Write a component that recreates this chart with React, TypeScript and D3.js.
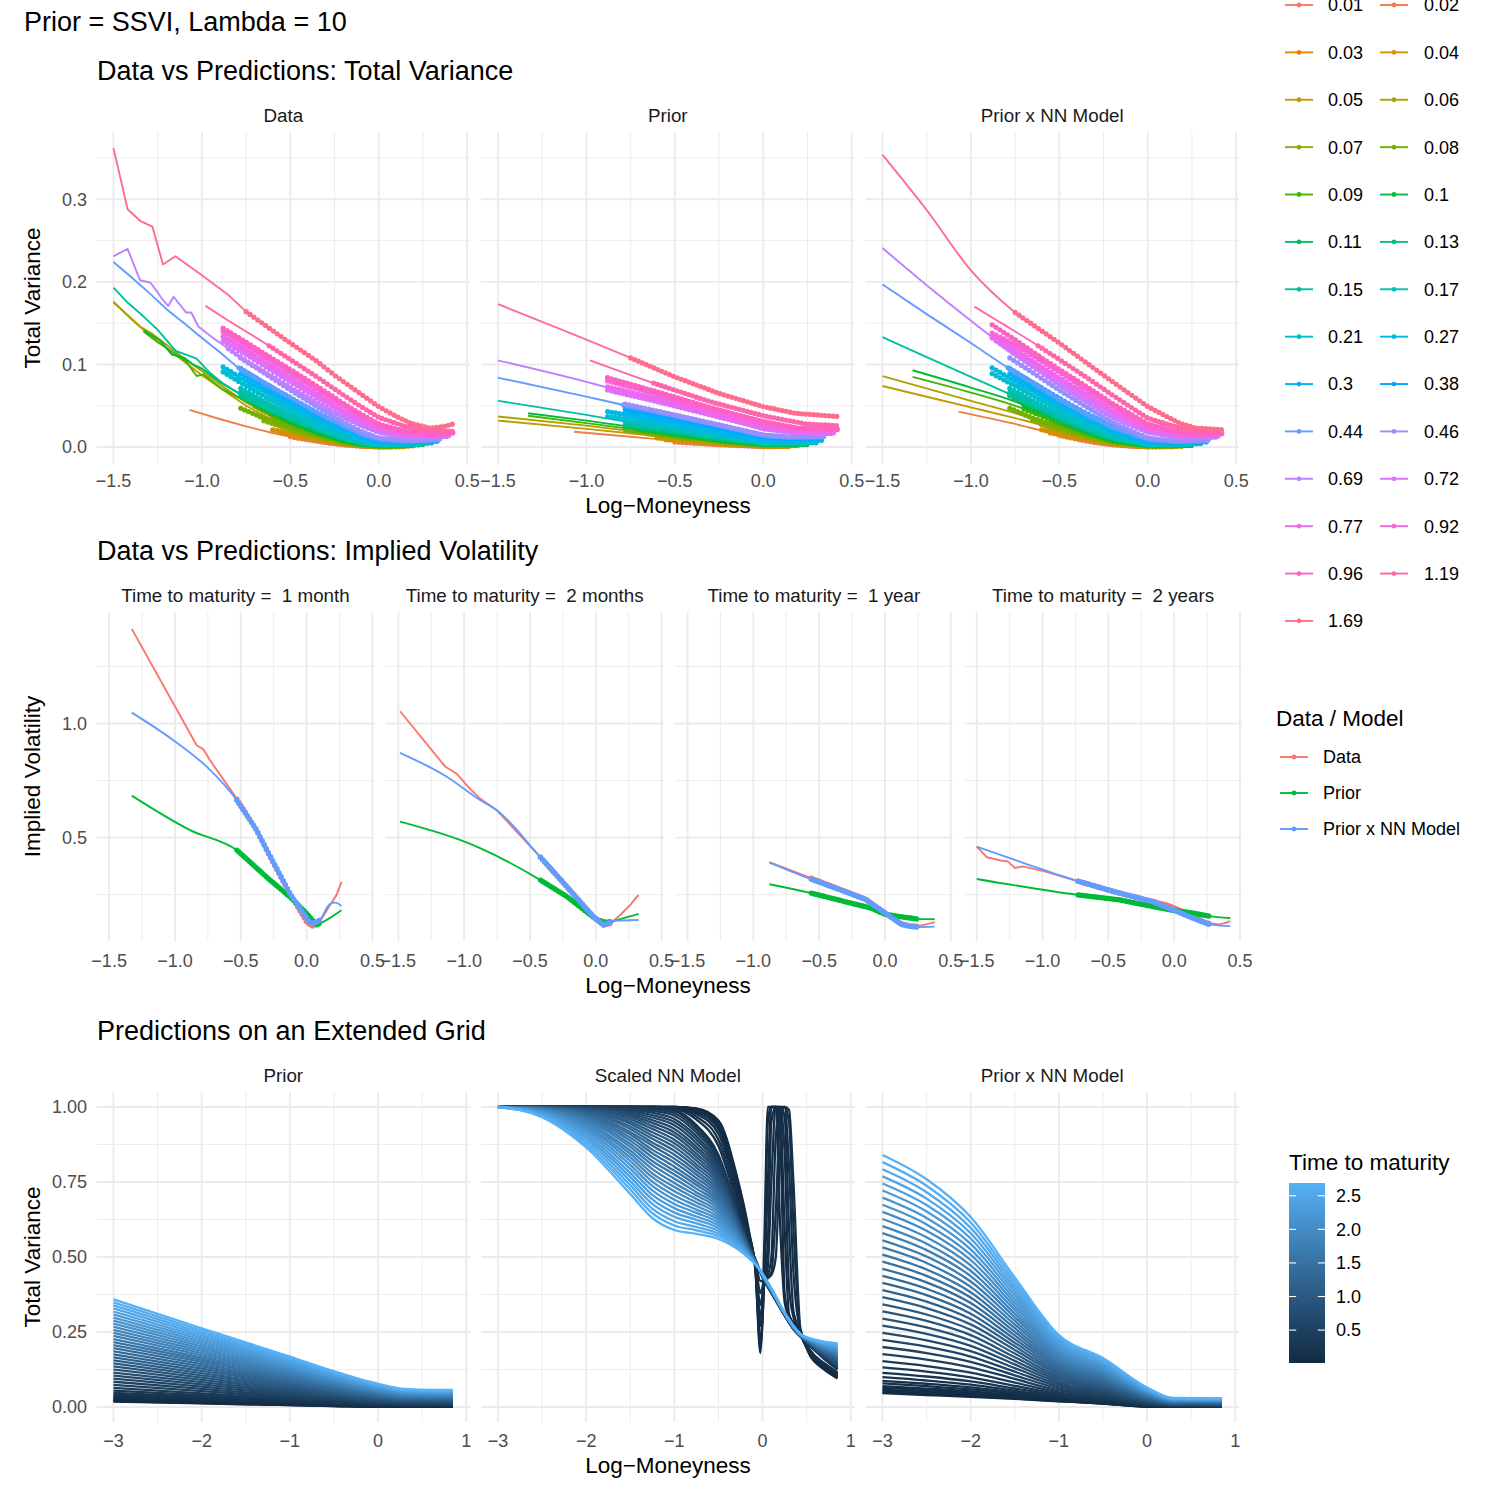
import React from 'react';
import * as d3 from 'd3';

type Pt = [number, number];

const FONT = '"Liberation Sans", Arial, Helvetica, sans-serif';
const GRID = '#EBEBEB';
const TICK_INK = '#4D4D4D';
const STRIP_INK = '#1A1A1A';

// ---------------------------------------------------------------------------
// Total variance slices, one per maturity (years)
// ---------------------------------------------------------------------------
const maturities = ['0.01', '0.02', '0.03', '0.04', '0.05', '0.06', '0.07', '0.08', '0.09', '0.1', '0.11', '0.13', '0.15', '0.17', '0.21', '0.27', '0.3', '0.38', '0.44', '0.46', '0.69', '0.72', '0.77', '0.92', '0.96', '1.19', '1.69'];

const tvData: Pt[][] = [
  [[-0.5, .014], [-0.4, .0095], [-0.3, .0055], [-0.2, .0028], [-0.1, .001], [0, .0002], [0.08, .0002], [0.15, .0006]],
  [[-1.07, .045], [-0.9, .034], [-0.75, .025], [-0.6, .017], [-0.45, .0105], [-0.3, .0055], [-0.15, .002], [0, .0003], [0.15, .0007]],
  [[-0.55, .017], [-0.4, .011], [-0.25, .0055], [-0.1, .0015], [0, .0004], [0.15, .0009]],
  [[-0.6, .021], [-0.45, .014], [-0.3, .0075], [-0.15, .0028], [0, .0006], [0.15, .001]],
  [[-1.5, .176], [-1.4, .155], [-1.33, .142], [-1.2, .12], [-1.0, .087], [-0.88, .069], [-0.75, .05], [-0.6, .033], [-0.5, .023], [-0.35, .012], [-0.25, .0065], [-0.1, .0018], [0, .0008], [0.1, .0008], [0.2, .0016]],
  [[-1.5, .175], [-1.42, .16], [-1.35, .146], [-1.28, .137], [-1.2, .124], [-1.1, .107], [-1.0, .092], [-0.88, .073], [-0.75, .054], [-0.6, .036], [-0.5, .026], [-0.35, .014], [-0.25, .0075], [-0.1, .0022], [0, .001], [0.1, .001], [0.2, .002]],
  [[-0.65, .032], [-0.5, .021], [-0.35, .012], [-0.2, .005], [-0.1, .0022], [0, .0011], [0.1, .0012], [0.2, .0022]],
  [[-0.78, .047], [-0.65, .035], [-0.5, .024], [-0.35, .014], [-0.2, .006], [-0.1, .0027], [0, .0013], [0.1, .0014], [0.2, .0024]],
  [[-1.33, .14], [-1.25, .127], [-1.15, .113], [-1.09, .104], [-1.03, .086], [-0.99, .088], [-0.89, .071], [-0.75, .055], [-0.6, .039], [-0.5, .029], [-0.35, .017], [-0.2, .0075], [-0.1, .0033], [0, .0015], [0.1, .0016], [0.25, .003]],
  [[-1.33, .141], [-1.24, .13], [-1.17, .112], [-1.1, .108], [-1.05, .1], [-1.0, .095], [-0.95, .087], [-0.9, .079], [-0.8, .066], [-0.75, .058], [-0.6, .042], [-0.5, .031], [-0.35, .018], [-0.2, .008], [-0.1, .0036], [0, .0017], [0.1, .0018], [0.25, .0033]],
  [[-0.78, .062], [-0.65, .048], [-0.5, .033], [-0.35, .02], [-0.2, .009], [-0.1, .004], [0, .0019], [0.1, .002], [0.25, .0036]],
  [[-0.78, .066], [-0.65, .052], [-0.5, .036], [-0.35, .022], [-0.2, .011], [-0.1, .0048], [0, .0022], [0.1, .0022], [0.25, .004]],
  [[-1.5, .193], [-1.42, .175], [-1.33, .158], [-1.25, .142], [-1.145, .116], [-1.09, .112], [-1.03, .107], [-0.96, .091], [-0.88, .077], [-0.75, .06], [-0.6, .044], [-0.5, .035], [-0.35, .022], [-0.2, .011], [-0.1, .005], [0, .0026], [0.15, .0026], [0.3, .005]],
  [[-0.78, .071], [-0.65, .056], [-0.5, .04], [-0.35, .025], [-0.2, .013], [-0.1, .006], [0, .003], [0.15, .003], [0.3, .0055]],
  [[-0.88, .091], [-0.75, .074], [-0.6, .056], [-0.5, .045], [-0.35, .029], [-0.2, .016], [-0.1, .0085], [0, .0042], [0.15, .0038], [0.3, .006]],
  [[-0.88, .097], [-0.75, .08], [-0.6, .062], [-0.5, .05], [-0.35, .034], [-0.2, .019], [-0.1, .0105], [0, .0055], [0.15, .0048], [0.33, .007]],
  [[-0.78, .089], [-0.65, .072], [-0.5, .054], [-0.35, .037], [-0.2, .021], [-0.1, .012], [0, .0065], [0.15, .0055], [0.33, .0075]],
  [[-0.78, .095], [-0.65, .078], [-0.5, .059], [-0.35, .041], [-0.2, .025], [-0.1, .0145], [0, .008], [0.15, .0065], [0.33, .0085]],
  [[-1.5, .224], [-1.4, .206], [-1.3, .187], [-1.2, .167], [-1.1, .15], [-1.01, .134], [-0.9, .115], [-0.8, .097], [-0.65, .078], [-0.5, .06], [-0.35, .042], [-0.2, .026], [-0.1, .016], [0, .0095], [0.15, .007], [0.35, .009]],
  [[-0.78, .108], [-0.65, .09], [-0.5, .069], [-0.35, .049], [-0.2, .03], [-0.1, .019], [0, .011], [0.15, .008], [0.35, .0095]],
  [[-1.5, .231], [-1.42, .24], [-1.35, .202], [-1.29, .199], [-1.22, .178], [-1.19, .171], [-1.16, .182], [-1.09, .163], [-1.06, .163], [-1.02, .146], [-0.93, .131], [-0.85, .119], [-0.75, .104], [-0.6, .085], [-0.5, .072], [-0.35, .054], [-0.2, .036], [-0.1, .026], [0, .018], [0.15, .012], [0.3, .012], [0.4, .013]],
  [[-0.88, .128], [-0.75, .112], [-0.6, .092], [-0.5, .079], [-0.35, .06], [-0.2, .041], [-0.1, .029], [0, .02], [0.15, .014], [0.3, .013], [0.4, .014]],
  [[-0.88, .134], [-0.75, .117], [-0.6, .097], [-0.5, .084], [-0.35, .064], [-0.2, .044], [-0.1, .032], [0, .022], [0.15, .015], [0.3, .014], [0.4, .015]],
  [[-0.88, .14], [-0.75, .123], [-0.6, .103], [-0.5, .09], [-0.35, .07], [-0.2, .05], [-0.1, .037], [0, .026], [0.15, .018], [0.3, .016], [0.42, .017]],
  [[-0.88, .144], [-0.75, .127], [-0.6, .107], [-0.5, .094], [-0.35, .074], [-0.2, .053], [-0.1, .04], [0, .028], [0.15, .019], [0.3, .017], [0.42, .018]],
  [[-0.98, .171], [-0.85, .153], [-0.75, .14], [-0.6, .12], [-0.5, .106], [-0.35, .085], [-0.2, .063], [-0.1, .049], [0, .036], [0.15, .025], [0.3, .02], [0.42, .019]],
  [[-1.5, .362], [-1.42, .288], [-1.35, .274], [-1.28, .267], [-1.22, .221], [-1.15, .231], [-1.0, .208], [-0.85, .184], [-0.75, .164], [-0.6, .141], [-0.5, .126], [-0.35, .104], [-0.25, .087], [-0.1, .064], [0, .049], [0.1, .037], [0.18, .029], [0.29, .023], [0.37, .025], [0.42, .028]],
];

const tvPrior: Pt[][] = [
  [[-0.5, .006], [-0.25, .0028], [0, .0005], [0.15, .0006]],
  [[-1.07, .0185], [-0.75, .0125], [-0.5, .0078], [-0.25, .0035], [0, .0008], [0.15, .0009]],
  [[-0.55, .009], [-0.25, .004], [0, .001], [0.15, .0011]],
  [[-0.6, .011], [-0.3, .005], [0, .0013], [0.15, .0014]],
  [[-1.5, .032], [-1.0, .022], [-0.5, .011], [-0.25, .0055], [0, .0016], [0.2, .0017]],
  [[-1.5, .037], [-1.0, .026], [-0.5, .013], [-0.25, .0065], [0, .002], [0.2, .002]],
  [[-0.65, .016], [-0.5, .012], [-0.25, .006], [0, .0022], [0.2, .0023]],
  [[-0.78, .021], [-0.5, .013], [-0.25, .0068], [0, .0025], [0.2, .0026]],
  [[-1.33, .038], [-1.0, .029], [-0.5, .015], [-0.25, .0078], [0, .0029], [0.25, .003]],
  [[-1.33, .041], [-1.0, .032], [-0.5, .0165], [-0.25, .0086], [0, .0032], [0.25, .0033]],
  [[-0.78, .025], [-0.5, .017], [-0.25, .0093], [0, .0035], [0.25, .0036]],
  [[-0.78, .027], [-0.5, .0185], [-0.25, .0105], [0, .0042], [0.25, .0042]],
  [[-1.5, .056], [-1.0, .039], [-0.5, .0205], [-0.25, .0118], [0, .0049], [0.15, .0045], [0.3, .0052]],
  [[-0.78, .031], [-0.5, .022], [-0.25, .0128], [0, .0056], [0.15, .005], [0.3, .0058]],
  [[-0.88, .037], [-0.5, .025], [-0.25, .015], [0, .0069], [0.15, .006], [0.3, .0068]],
  [[-0.88, .043], [-0.5, .029], [-0.25, .018], [0, .0088], [0.15, .0075], [0.33, .0082]],
  [[-0.78, .043], [-0.5, .031], [-0.25, .0195], [0, .0098], [0.15, .0083], [0.33, .009]],
  [[-0.78, .047], [-0.5, .035], [-0.25, .023], [0, .0123], [0.15, .0103], [0.33, .0108]],
  [[-1.5, .084], [-1.0, .061], [-0.79, .051], [-0.5, .038], [-0.25, .026], [0, .0142], [0.15, .0118], [0.35, .0122]],
  [[-0.78, .052], [-0.5, .039], [-0.25, .027], [0, .0148], [0.15, .0123], [0.35, .0127]],
  [[-1.5, .105], [-1.0, .079], [-0.88, .072], [-0.5, .053], [-0.25, .038], [0, .022], [0.2, .0168], [0.4, .0165]],
  [[-0.88, .069], [-0.6, .055], [-0.3, .039], [0, .023], [0.2, .0175], [0.4, .017]],
  [[-0.88, .073], [-0.6, .058], [-0.3, .041], [0, .0245], [0.2, .0186], [0.4, .018]],
  [[-0.88, .08], [-0.6, .064], [-0.3, .046], [0, .029], [0.2, .022], [0.42, .021]],
  [[-0.88, .084], [-0.6, .067], [-0.3, .048], [0, .031], [0.2, .023], [0.42, .022]],
  [[-0.98, .105], [-0.6, .076], [-0.3, .055], [0, .038], [0.24, .028], [0.42, .026]],
  [[-1.5, .173], [-0.75, .108], [-0.5, .085], [-0.25, .065], [0, .049], [0.18, .041], [0.42, .037]],
];

const tvModel: Pt[][] = [
  [[-0.5, .0145], [-0.4, .0095], [-0.3, .0055], [-0.2, .0028], [-0.1, .001], [0, .0003], [0.15, .0005]],
  [[-1.07, .043], [-0.9, .035], [-0.75, .028], [-0.6, .02], [-0.5, .0145], [-0.35, .008], [-0.2, .0033], [0, .0004], [0.15, .0006]],
  [[-0.55, .017], [-0.4, .011], [-0.25, .0055], [-0.1, .0016], [0, .0005], [0.15, .0008]],
  [[-0.6, .021], [-0.45, .014], [-0.3, .0075], [-0.15, .0028], [0, .0007], [0.15, .0009]],
  [[-1.5, .074], [-1.0, .048], [-0.75, .035], [-0.6, .027], [-0.5, .021], [-0.35, .012], [-0.2, .0045], [0, .0009], [0.2, .0012]],
  [[-1.5, .086], [-1.0, .056], [-0.75, .041], [-0.6, .031], [-0.5, .025], [-0.35, .014], [-0.2, .0055], [0, .0011], [0.2, .0014]],
  [[-0.65, .032], [-0.5, .021], [-0.35, .012], [-0.2, .0052], [0, .0012], [0.2, .0015]],
  [[-0.78, .047], [-0.65, .035], [-0.5, .024], [-0.35, .014], [-0.2, .006], [0, .0014], [0.2, .0017]],
  [[-1.33, .085], [-1.0, .066], [-0.75, .05], [-0.6, .038], [-0.5, .029], [-0.35, .017], [-0.2, .0075], [0, .0016], [0.25, .002]],
  [[-1.33, .093], [-1.0, .072], [-0.75, .055], [-0.6, .042], [-0.5, .032], [-0.35, .019], [-0.2, .0082], [0, .0018], [0.25, .0022]],
  [[-0.78, .062], [-0.65, .048], [-0.5, .033], [-0.35, .02], [-0.2, .009], [0, .002], [0.25, .0025]],
  [[-0.78, .066], [-0.65, .052], [-0.5, .036], [-0.35, .022], [-0.2, .011], [0, .0024], [0.25, .003]],
  [[-1.5, .133], [-1.25, .109], [-1.0, .085], [-0.75, .061], [-0.6, .046], [-0.5, .036], [-0.35, .022], [-0.2, .011], [0, .0028], [0.15, .0026], [0.3, .0042]],
  [[-0.78, .071], [-0.65, .056], [-0.5, .04], [-0.35, .025], [-0.2, .013], [0, .0032], [0.15, .003], [0.3, .0048]],
  [[-0.88, .089], [-0.75, .074], [-0.6, .056], [-0.5, .045], [-0.35, .029], [-0.2, .016], [0, .0044], [0.15, .0038], [0.3, .0055]],
  [[-0.88, .096], [-0.75, .08], [-0.6, .062], [-0.5, .05], [-0.35, .034], [-0.2, .019], [0, .0057], [0.15, .0046], [0.33, .0062]],
  [[-0.78, .089], [-0.65, .072], [-0.5, .054], [-0.35, .037], [-0.2, .021], [0, .0066], [0.15, .0053], [0.33, .0068]],
  [[-0.78, .095], [-0.65, .078], [-0.5, .059], [-0.35, .041], [-0.2, .025], [0, .0082], [0.15, .0062], [0.33, .0076]],
  [[-1.5, .197], [-1.25, .161], [-1.0, .126], [-0.79, .096], [-0.65, .078], [-0.5, .058], [-0.35, .04], [-0.2, .024], [0, .0095], [0.15, .0066], [0.35, .0078]],
  [[-0.78, .108], [-0.65, .09], [-0.5, .069], [-0.35, .049], [-0.2, .03], [0, .011], [0.15, .0075], [0.35, .0086]],
  [[-1.5, .241], [-1.25, .196], [-1.0, .153], [-0.88, .133], [-0.75, .112], [-0.6, .09], [-0.5, .075], [-0.35, .055], [-0.2, .036], [0, .018], [0.2, .011], [0.4, .012]],
  [[-0.88, .132], [-0.75, .113], [-0.6, .092], [-0.5, .079], [-0.35, .06], [-0.2, .041], [0, .02], [0.2, .013], [0.4, .013]],
  [[-0.88, .136], [-0.75, .118], [-0.6, .097], [-0.5, .084], [-0.35, .064], [-0.2, .044], [0, .022], [0.2, .014], [0.4, .014]],
  [[-0.88, .138], [-0.75, .124], [-0.6, .104], [-0.5, .091], [-0.35, .07], [-0.2, .05], [0, .026], [0.2, .016], [0.42, .016]],
  [[-0.88, .148], [-0.75, .13], [-0.6, .108], [-0.5, .094], [-0.35, .074], [-0.2, .053], [0, .028], [0.2, .017], [0.42, .017]],
  [[-0.98, .17], [-0.85, .153], [-0.75, .14], [-0.6, .12], [-0.5, .106], [-0.35, .085], [-0.2, .063], [0, .035], [0.2, .022], [0.42, .019]],
  [[-1.5, .354], [-1.25, .287], [-1.0, .214], [-0.75, .163], [-0.5, .126], [-0.25, .087], [0, .049], [0.18, .029], [0.27, .023], [0.42, .021]],
];

// Strike span of the densely quoted part of each slice
const tvQuotes: Pt[] = [
  [-0.5, 0.15], [-0.5, 0.15], [-0.55, 0.15], [-0.6, 0.15], [-0.6, 0.2], [-0.6, 0.2], [-0.65, 0.2], [-0.78, 0.2], [-0.7, 0.25],
  [-0.7, 0.25], [-0.78, 0.25], [-0.78, 0.25], [-0.78, 0.3], [-0.78, 0.3], [-0.88, 0.3], [-0.88, 0.33], [-0.78, 0.33], [-0.78, 0.33],
  [-0.79, 0.35], [-0.78, 0.35], [-0.85, 0.4], [-0.88, 0.4], [-0.88, 0.4], [-0.88, 0.42], [-0.88, 0.42], [-0.62, 0.42], [-0.75, 0.42],
];

// ---------------------------------------------------------------------------
// Implied volatility for four selected maturities
// ---------------------------------------------------------------------------
const ivFacets = ['Time to maturity =  1 month', 'Time to maturity =  2 months', 'Time to maturity =  1 year', 'Time to maturity =  2 years'];
const ivSeries = ['Data', 'Prior', 'Prior x NN Model'];

const ivData: Pt[][] = [
  [[-1.328, 1.415], [-0.835, 0.905], [-0.784, 0.887], [-0.734, 0.839], [-0.65, 0.77], [-0.557, 0.693], [-0.5, 0.642], [-0.38, 0.533], [-0.278, 0.416], [-0.127, 0.255], [0, 0.131], [0.045, 0.112], [0.1, 0.131], [0.177, 0.204], [0.227, 0.248], [0.265, 0.306]],
  [[-1.487, 1.054], [-1.145, 0.812], [-1.056, 0.78], [-0.955, 0.714], [-0.879, 0.671], [-0.752, 0.62], [-0.423, 0.416], [-0.22, 0.285], [-0.017, 0.153], [0.059, 0.117], [0.11, 0.124], [0.186, 0.161], [0.262, 0.205], [0.325, 0.249]],
  [[-0.878, 0.393], [-0.561, 0.322], [-0.307, 0.266], [-0.15, 0.231], [0, 0.17], [0.124, 0.122], [0.2, 0.112], [0.25, 0.112], [0.3, 0.118], [0.378, 0.13]],
  [[-1.5, 0.461], [-1.423, 0.414], [-1.316, 0.4], [-1.265, 0.396], [-1.209, 0.367], [-1.151, 0.374], [-0.985, 0.352], [-0.73, 0.309], [-0.423, 0.258], [-0.168, 0.221], [-0.041, 0.202], [0.087, 0.17], [0.24, 0.127], [0.342, 0.12], [0.393, 0.127], [0.426, 0.134]],
];

const ivPrior: Pt[][] = [
  [[-1.328, 0.684], [-0.885, 0.533], [-0.531, 0.446], [-0.278, 0.314], [-0.127, 0.241], [0, 0.168], [0.075, 0.117], [0.126, 0.131], [0.265, 0.182]],
  [[-1.487, 0.57], [-0.879, 0.454], [-0.423, 0.315], [-0.22, 0.242], [0.008, 0.14], [0.084, 0.128], [0.186, 0.143], [0.325, 0.166]],
  [[-0.878, 0.296], [-0.561, 0.257], [-0.307, 0.22], [-0.104, 0.191], [0, 0.164], [0.1, 0.155], [0.251, 0.143], [0.378, 0.143]],
  [[-1.5, 0.319], [-0.73, 0.249], [-0.423, 0.228], [-0.168, 0.199], [-0.015, 0.182], [0.138, 0.17], [0.265, 0.156], [0.426, 0.148]],
];

const ivModel: Pt[][] = [
  [[-1.328, 1.048], [-1.012, 0.927], [-0.759, 0.811], [-0.531, 0.665], [-0.38, 0.533], [-0.127, 0.255], [0.025, 0.127], [0.06, 0.125], [0.1, 0.139], [0.177, 0.209], [0.22, 0.215], [0.265, 0.2]],
  [[-1.487, 0.872], [-1.132, 0.767], [-0.879, 0.665], [-0.752, 0.62], [-0.423, 0.416], [-0.22, 0.285], [-0.017, 0.153], [0.059, 0.117], [0.135, 0.136], [0.325, 0.139]],
  [[-0.878, 0.391], [-0.561, 0.318], [-0.307, 0.264], [-0.15, 0.23], [0, 0.17], [0.124, 0.12], [0.2, 0.11], [0.25, 0.108], [0.378, 0.11]],
  [[-1.5, 0.461], [-1.1, 0.38], [-0.73, 0.309], [-0.423, 0.258], [-0.168, 0.221], [-0.015, 0.185], [0.138, 0.148], [0.265, 0.12], [0.426, 0.112]],
];

const ivQuotes: Pt[] = [[-0.53, 0.1], [-0.42, 0.12], [-0.56, 0.25], [-0.73, 0.27]];

// ---------------------------------------------------------------------------
// Extended grid: one row per maturity, values at the knot strikes
// ---------------------------------------------------------------------------
const gridMaturities = [0.01, 0.02, 0.035, 0.05, 0.07, 0.09, 0.12, 0.15, 0.19, 0.24, 0.3, 0.37, 0.45, 0.53, 0.61, 0.69, 0.77, 0.85, 0.93, 1.01, 1.09, 1.17, 1.25, 1.33, 1.41, 1.49, 1.57, 1.65, 1.73, 1.81, 1.89, 1.97, 2.05, 2.13, 2.21, 2.29, 2.37, 2.45, 2.53, 2.61, 2.69];

const priorKnots = [-3, -2, -1, -0.5, 0, 0.3, 0.6, 0.85];
const priorGrid = [
  [.018, .012, .006, .003, .0003, .0003, .0006, .0009],
  [.0193, .0129, .0066, .0034, .0006, .0005, .0008, .0011],
  [.0212, .0143, .0075, .0041, .001, .0009, .0011, .0014],
  [.0231, .0157, .0084, .0047, .0014, .0012, .0014, .0017],
  [.0256, .0176, .0096, .0056, .002, .0016, .0019, .0022],
  [.0282, .0195, .0108, .0065, .0026, .0021, .0023, .0026],
  [.032, .0223, .0126, .0078, .0034, .0027, .0029, .0032],
  [.0358, .0251, .0145, .0091, .0043, .0034, .0035, .0038],
  [.0409, .0288, .0169, .0108, .0055, .0043, .0044, .0047],
  [.0473, .0335, .0199, .013, .0069, .0054, .0054, .0057],
  [.0549, .0391, .0235, .0156, .0086, .0068, .0067, .007],
  [.0638, .0456, .0278, .0186, .0106, .0083, .0082, .0084],
  [.074, .0531, .0326, .0221, .0129, .0101, .0099, .0101],
  [.0842, .0605, .0374, .0255, .0152, .0119, .0115, .0118],
  [.0944, .068, .0423, .029, .0175, .0137, .0132, .0135],
  [.1045, .0754, .0471, .0324, .0198, .0155, .0149, .0151],
  [.1147, .0829, .0519, .0359, .0221, .0172, .0166, .0168],
  [.1249, .0904, .0568, .0394, .0243, .019, .0183, .0185],
  [.1351, .0978, .0616, .0428, .0266, .0208, .02, .0202],
  [.1452, .1053, .0664, .0463, .0289, .0226, .0216, .0218],
  [.1554, .1128, .0713, .0498, .0312, .0244, .0233, .0235],
  [.1656, .1202, .0761, .0532, .0335, .0261, .025, .0252],
  [.1758, .1277, .081, .0567, .0358, .0279, .0267, .0269],
  [.1859, .1351, .0858, .0601, .0381, .0297, .0284, .0285],
  [.1961, .1426, .0906, .0636, .0404, .0315, .0301, .0302],
  [.2063, .1501, .0955, .0671, .0427, .0333, .0317, .0319],
  [.2165, .1575, .1003, .0705, .0449, .0351, .0334, .0336],
  [.2267, .165, .1051, .074, .0472, .0368, .0351, .0352],
  [.2369, .1725, .11, .0775, .0495, .0386, .0368, .0369],
  [.247, .1799, .1148, .0809, .0518, .0404, .0385, .0386],
  [.2572, .1874, .1196, .0844, .0541, .0422, .0402, .0403],
  [.2674, .1948, .1245, .0878, .0564, .044, .0419, .0419],
  [.2776, .2023, .1293, .0913, .0587, .0457, .0435, .0436],
  [.2877, .2098, .1341, .0948, .061, .0475, .0452, .0453],
  [.2979, .2172, .139, .0982, .0633, .0493, .0469, .047],
  [.3081, .2247, .1438, .1017, .0656, .0511, .0486, .0486],
  [.3183, .2322, .1487, .1052, .0678, .0529, .0503, .0503],
  [.3285, .2396, .1535, .1086, .0701, .0547, .0519, .052],
  [.3386, .2471, .1583, .1121, .0724, .0564, .0536, .0537],
  [.3488, .2545, .1632, .1155, .0747, .0582, .0553, .0553],
  [.359, .262, .168, .119, .077, .06, .057, .057],
];

const scaledKnots = [-3, -2.5, -2, -1.5, -1.25, -1, -0.75, -0.5, -0.3, -0.15, -0.08, -0.025, 0.02, 0.06, 0.1, 0.15, 0.2, 0.25, 0.3, 0.35, 0.43, 0.55, 0.7, 0.85];
const scaledGrid = [
  [1, 1, 1, 1, 1, 1, .995, .955, .78, .58, .45, .18, .55, 1, 1, 1, .6, .35, .3, .27, .24, .165, .125, .095],
  [1, 1, 1, 1, 1, 1, .994, .95, .772, .575, .455, .2, .45, .95, 1, 1, .9, .38, .305, .275, .243, .168, .128, .098],
  [1, 1, 1, 1, 1, 1, .992, .943, .763, .57, .46, .23, .42, .75, 1, 1, .98, .6, .31, .28, .245, .17, .13, .1],
  [1, 1, 1, 1, 1, .999, .988, .935, .752, .565, .465, .27, .42, .55, .95, 1, 1, .85, .4, .3, .247, .172, .132, .102],
  [1, 1, 1, 1, 1, .999, .983, .925, .74, .56, .47, .3, .42, .47, .75, 1, 1, .97, .6, .32, .25, .175, .135, .105],
  [1, 1, 1, 1, 1, .998, .977, .91, .725, .555, .475, .34, .42, .44, .5, .9, 1, 1, .8, .45, .25, .178, .138, .108],
  [1, 1, 1, 1, .999, .996, .968, .89, .708, .55, .48, .38, .42, .43, .45, .65, .98, 1, .95, .6, .255, .182, .142, .112],
  [1, 1, 1, 1, .999, .994, .958, .87, .69, .545, .485, .42, .42, .43, .44, .5, .85, 1, .99, .75, .26, .186, .146, .116],
  [1, 1, 1, 1, .998, .99, .94, .84, .67, .54, .49, .45, .42, .40, .38, .355, .33, .305, .282, .26, .235, .20, .16, .125],
  [1, 1, 1, .999, .996, .986, .933, .834, .667, .539, .49, .45, .42, .4, .38, .355, .33, .305, .282, .26, .235, .201, .161, .127],
  [1, 1, 1, .998, .993, .979, .924, .828, .664, .538, .489, .45, .421, .401, .381, .356, .33, .305, .282, .26, .235, .201, .163, .129],
  [1, 1, 1, .996, .987, .971, .914, .82, .66, .537, .489, .45, .421, .401, .381, .356, .331, .306, .283, .261, .236, .202, .164, .131],
  [1, 1, .999, .992, .981, .96, .902, .811, .655, .535, .488, .451, .422, .402, .382, .356, .331, .306, .283, .261, .236, .203, .166, .134],
  [1, 1, .998, .988, .973, .95, .891, .802, .651, .534, .488, .451, .422, .402, .382, .357, .331, .306, .283, .261, .236, .204, .168, .137],
  [1, 1, .997, .983, .965, .939, .879, .793, .647, .532, .488, .451, .423, .403, .383, .357, .332, .307, .284, .262, .236, .205, .17, .14],
  [1, 1, .996, .978, .956, .927, .867, .784, .642, .531, .487, .451, .423, .403, .383, .358, .332, .307, .284, .262, .237, .206, .172, .142],
  [1, 1, .995, .972, .947, .915, .856, .775, .638, .53, .487, .451, .424, .404, .384, .358, .332, .307, .284, .262, .237, .207, .174, .145],
  [1, .999, .993, .966, .937, .904, .844, .766, .633, .528, .486, .451, .424, .404, .384, .358, .333, .308, .285, .263, .237, .207, .175, .148],
  [1, .999, .991, .959, .927, .891, .833, .757, .629, .527, .486, .452, .424, .404, .384, .359, .333, .308, .285, .263, .237, .208, .177, .151],
  [1, .999, .988, .951, .916, .879, .821, .748, .624, .525, .485, .452, .425, .405, .385, .359, .333, .308, .285, .263, .238, .209, .179, .154],
  [1, .998, .986, .944, .905, .867, .809, .739, .62, .524, .485, .452, .425, .405, .385, .36, .334, .309, .286, .264, .238, .21, .181, .156],
  [1, .998, .983, .935, .894, .854, .798, .73, .615, .522, .484, .452, .426, .406, .386, .36, .334, .309, .286, .264, .238, .211, .183, .159],
  [1, .997, .98, .927, .882, .841, .786, .721, .611, .521, .484, .452, .426, .406, .386, .361, .334, .309, .286, .264, .238, .212, .185, .162],
  [1, .997, .976, .917, .871, .828, .775, .712, .606, .519, .483, .452, .427, .407, .387, .361, .335, .31, .287, .265, .239, .213, .186, .165],
  [1, .996, .972, .908, .858, .815, .763, .703, .602, .518, .483, .452, .427, .407, .387, .361, .335, .31, .287, .265, .239, .214, .188, .168],
  [1, .995, .968, .898, .846, .801, .751, .694, .597, .517, .482, .453, .428, .408, .388, .362, .335, .31, .287, .265, .239, .215, .19, .17],
  [1, .994, .964, .888, .833, .788, .74, .685, .593, .515, .482, .453, .428, .408, .388, .362, .336, .311, .288, .266, .239, .216, .192, .173],
  [1, .993, .959, .877, .82, .775, .728, .677, .588, .514, .481, .453, .429, .409, .389, .363, .336, .311, .288, .266, .24, .216, .194, .176],
  [1, .992, .954, .867, .807, .761, .716, .668, .584, .512, .481, .453, .429, .409, .389, .363, .336, .311, .288, .266, .24, .217, .196, .179],
  [1, .991, .948, .855, .793, .747, .705, .659, .579, .511, .48, .453, .43, .41, .39, .363, .337, .312, .289, .267, .24, .218, .198, .181],
  [1, .989, .942, .844, .779, .733, .693, .65, .575, .509, .48, .453, .43, .41, .39, .364, .337, .312, .289, .267, .24, .219, .199, .184],
  [1, .988, .936, .832, .766, .719, .682, .641, .57, .508, .479, .454, .431, .411, .391, .364, .337, .312, .289, .267, .241, .22, .201, .187],
  [1, .986, .93, .82, .751, .705, .67, .632, .566, .507, .479, .454, .431, .411, .391, .365, .337, .312, .289, .267, .241, .221, .203, .19],
  [1, .984, .923, .807, .737, .691, .658, .623, .561, .505, .478, .454, .432, .412, .392, .365, .338, .313, .29, .268, .241, .222, .205, .193],
  [1, .982, .916, .794, .722, .677, .647, .614, .557, .504, .478, .454, .432, .412, .392, .366, .338, .313, .29, .268, .242, .223, .207, .195],
  [1, .98, .908, .78, .707, .663, .635, .605, .552, .502, .477, .454, .433, .413, .393, .366, .338, .313, .29, .268, .242, .224, .209, .198],
  [1, .978, .9, .767, .692, .648, .624, .596, .548, .501, .477, .454, .433, .413, .393, .366, .339, .314, .291, .269, .242, .224, .211, .201],
  [1, .975, .892, .753, .677, .634, .612, .587, .543, .499, .476, .455, .434, .414, .394, .367, .339, .314, .291, .269, .242, .225, .212, .204],
  [1, .972, .883, .739, .661, .619, .6, .578, .539, .498, .476, .455, .434, .414, .394, .367, .339, .314, .291, .269, .243, .226, .214, .206],
  [1, .969, .874, .725, .646, .605, .589, .569, .535, .496, .476, .455, .435, .415, .395, .368, .34, .315, .292, .27, .243, .227, .216, .209],
  [1, .966, .865, .71, .63, .59, .577, .56, .53, .495, .475, .455, .435, .415, .395, .368, .34, .315, .292, .27, .243, .228, .218, .212],
];

const modelKnots = [-3, -2.5, -2, -1.5, -1, -0.5, 0, 0.3, 0.85];
const modelGrid = [
  [.046, .04, .034, .027, .019, .011, .001, .0005, .001],
  [.0489, .0427, .0362, .0285, .0198, .0116, .0012, .0006, .0011],
  [.0534, .0467, .0396, .0308, .0211, .0124, .0016, .0008, .0013],
  [.0578, .0507, .0429, .033, .0223, .0133, .002, .0009, .0014],
  [.0638, .0561, .0474, .0361, .024, .0144, .0024, .0012, .0016],
  [.0697, .0615, .0519, .0391, .0256, .0155, .0029, .0014, .0018],
  [.0786, .0695, .0586, .0436, .0281, .0172, .0036, .0017, .0021],
  [.0874, .0775, .0653, .0481, .0305, .0189, .0043, .002, .0025],
  [.0994, .0883, .0743, .0542, .0339, .0212, .0053, .0025, .0029],
  [.1141, .1017, .0854, .0617, .038, .024, .0065, .003, .0034],
  [.1319, .1178, .0988, .0708, .0429, .0274, .0079, .0037, .004],
  [.1526, .1366, .1144, .0814, .0487, .0314, .0096, .0045, .0048],
  [.1764, .1581, .1324, .0935, .0553, .036, .0115, .0053, .0056],
  [.2, .1795, .1502, .1056, .0619, .0405, .0134, .0062, .0064],
  [.2238, .201, .1681, .1177, .0685, .045, .0153, .0071, .0073],
  [.2474, .2224, .186, .1297, .0751, .0496, .0172, .008, .0081],
  [.2712, .2439, .2039, .1419, .0817, .0541, .0192, .0089, .0089],
  [.2948, .2653, .2217, .1539, .0883, .0586, .0211, .0097, .0098],
  [.3186, .2868, .2396, .166, .0949, .0632, .023, .0106, .0106],
  [.3422, .3083, .2575, .1781, .1015, .0677, .0249, .0115, .0114],
  [.366, .3298, .2754, .1902, .1081, .0723, .0268, .0124, .0123],
  [.3896, .3512, .2933, .2023, .1146, .0768, .0287, .0133, .0131],
  [.4134, .3727, .3112, .2144, .1213, .0813, .0306, .0141, .014],
  [.437, .3941, .329, .2265, .1278, .0859, .0325, .015, .0148],
  [.4608, .4156, .3469, .2386, .1345, .0904, .0344, .0159, .0156],
  [.4844, .437, .3648, .2506, .141, .0949, .0363, .0168, .0165],
  [.5082, .4585, .3827, .2628, .1476, .0995, .0383, .0177, .0173],
  [.5318, .48, .4005, .2748, .1542, .104, .0402, .0186, .0181],
  [.5556, .5015, .4184, .2869, .1608, .1086, .0421, .0194, .019],
  [.5793, .5229, .4363, .299, .1674, .1131, .044, .0203, .0198],
  [.603, .5444, .4542, .3111, .174, .1176, .0459, .0212, .0206],
  [.6267, .5658, .472, .3232, .1806, .1222, .0478, .0221, .0215],
  [.6504, .5873, .49, .3353, .1872, .1267, .0497, .023, .0223],
  [.6741, .6087, .5078, .3474, .1938, .1312, .0516, .0238, .0231],
  [.6978, .6302, .5257, .3595, .2004, .1358, .0535, .0247, .024],
  [.7215, .6517, .5436, .3715, .207, .1403, .0554, .0256, .0248],
  [.7452, .6732, .5615, .3836, .2136, .1449, .0574, .0265, .0257],
  [.7689, .6946, .5793, .3957, .2202, .1494, .0593, .0274, .0265],
  [.7926, .7161, .5972, .4078, .2268, .1539, .0612, .0282, .0273],
  [.8163, .7375, .6151, .4199, .2334, .1585, .0631, .0291, .0282],
  [.84, .759, .633, .432, .24, .163, .065, .03, .029],
];

// Axis breaks
const tvXMajor = [-1.5, -1, -0.5, 0, 0.5];
const tvXMinor = [-1.25, -0.75, -0.25, 0.25];
const tvYMajor = [0, 0.1, 0.2, 0.3];
const tvYMinor = [0.05, 0.15, 0.25, 0.35];
const ivYMajor = [0.5, 1.0];
const ivYMinor = [0.25, 0.75, 1.25];
const gXMajor = [-3, -2, -1, 0, 1];
const gXMinor = [-2.5, -1.5, -0.5, 0.5];
const gYMajor = [0, 0.25, 0.5, 0.75, 1];
const gYMinor = [0.125, 0.375, 0.625, 0.875];
const barBreaks = [0.5, 1, 1.5, 2, 2.5];

// ---------------------------------------------------------------------------
// Helpers
// ---------------------------------------------------------------------------
// ggplot-style hue (polar LUV) to hex
function hueHex(h: number, c = 100, l = 65): string {
  const rad = (h * Math.PI) / 180;
  const U = c * Math.cos(rad);
  const V = c * Math.sin(rad);
  const Xn = 95.047, Yn = 100, Zn = 108.883;
  const den = Xn + 15 * Yn + 3 * Zn;
  const un = (4 * Xn) / den;
  const vn = (9 * Yn) / den;
  const Y = l > 8 ? Yn * Math.pow((l + 16) / 116, 3) : (Yn * l) / 903.3;
  const u = U / (13 * l) + un;
  const v = V / (13 * l) + vn;
  const X = (9 * Y * u) / (4 * v);
  const Z = -X / 3 - 5 * Y + (3 * Y) / v;
  const x = X / 100, y = Y / 100, z = Z / 100;
  const lin = [
    3.240479 * x - 1.53715 * y - 0.498535 * z,
    -0.969256 * x + 1.875992 * y + 0.041556 * z,
    0.055648 * x - 0.204043 * y + 1.057311 * z,
  ];
  const [r, g, b] = lin.map((t) => {
    const s = t <= 0.0031308 ? 12.92 * t : 1.055 * Math.pow(t, 1 / 2.4) - 0.055;
    return Math.round(Math.max(0, Math.min(1, s)) * 255);
  });
  return d3.rgb(r, g, b).formatHex();
}

function valueAt(c: Pt[], k: number): number | null {
  if (k < c[0][0] - 1e-9 || k > c[c.length - 1][0] + 1e-9) return null;
  for (let i = 1; i < c.length; i++) {
    if (k <= c[i][0] + 1e-12) {
      const [x0, y0] = c[i - 1];
      const [x1, y1] = c[i];
      const t = x1 === x0 ? 0 : (k - x0) / (x1 - x0);
      return y0 + t * (y1 - y0);
    }
  }
  return c[c.length - 1][1];
}

const minus = (s: string) => s.replace(/-/g, '\u2212');
const fmt1 = (v: number) => minus(d3.format('.1f')(v));
const fmt2 = (v: number) => minus(d3.format('.2f')(v));
const fmt0 = (v: number) => minus(d3.format('d')(v));

// ---------------------------------------------------------------------------
// Layout
// ---------------------------------------------------------------------------
const PANEL_W3 = 373.5;
const X3 = [96.5, 481, 865.5];
const PANEL_W4 = 278;
const X4 = [96.5, 385.7, 674.9, 964.1];

const TV_Y = [132, 464];
const IV_Y = [612, 941];
const G_Y = [1092, 1422];

const tvXDomain = [-1.596, 0.516];
const gXDomain = [-3.1925, 1.0425];

const tvY = d3.scaleLinear().domain([-0.0205, 0.3815]).range([TV_Y[1], TV_Y[0]]);
const ivY = d3.scaleLinear().domain([0.047, 1.489]).range([IV_Y[1], IV_Y[0]]);
const gY = d3.scaleLinear().domain([-0.05, 1.05]).range([G_Y[1], G_Y[0]]);

const hues = maturities.map((_, i) => hueHex(15 + (i * 360) / maturities.length));
const seriesColors = [hueHex(15), hueHex(135), hueHex(255)];
const tColor = d3.scaleLinear<string>().domain([0.01, 2.69]).range(['#132B43', '#56B1F7']).interpolate(d3.interpolateLab);

type GridProps = {
  xs: d3.ScaleLinear<number, number>;
  ys: d3.ScaleLinear<number, number>;
  x0: number; x1: number; y0: number; y1: number;
  xMajor: number[]; xMinor: number[]; yMajor: number[]; yMinor: number[];
};

function PanelGrid({ xs, ys, x0, x1, y0, y1, xMajor, xMinor, yMajor, yMinor }: GridProps) {
  return (
    <g>
      {yMinor.map((v) => <line key={'ym' + v} x1={x0} x2={x1} y1={ys(v)} y2={ys(v)} stroke={GRID} strokeWidth={0.95} />)}
      {xMinor.map((v) => <line key={'xm' + v} x1={xs(v)} x2={xs(v)} y1={y0} y2={y1} stroke={GRID} strokeWidth={0.95} />)}
      {yMajor.map((v) => <line key={'yM' + v} x1={x0} x2={x1} y1={ys(v)} y2={ys(v)} stroke={GRID} strokeWidth={1.9} />)}
      {xMajor.map((v) => <line key={'xM' + v} x1={xs(v)} x2={xs(v)} y1={y0} y2={y1} stroke={GRID} strokeWidth={1.9} />)}
    </g>
  );
}

function Strip({ x, y, label }: { x: number; y: number; label: string }) {
  return (
    <text x={x} y={y} textAnchor="middle" fontSize={18.8} fill={STRIP_INK} style={{ whiteSpace: 'pre' }}>
      {label}
    </text>
  );
}

function XTicks({ xs, ticks, y, f }: { xs: d3.ScaleLinear<number, number>; ticks: number[]; y: number; f: (v: number) => string }) {
  return (
    <g>
      {ticks.map((v) => (
        <text key={v} x={xs(v)} y={y} textAnchor="middle" fontSize={18} fill={TICK_INK}>{f(v)}</text>
      ))}
    </g>
  );
}

function YTicks({ ys, ticks, f }: { ys: d3.ScaleLinear<number, number>; ticks: number[]; f: (v: number) => string }) {
  return (
    <g>
      {ticks.map((v) => (
        <text key={v} x={87} y={ys(v) + 6.4} textAnchor="end" fontSize={18} fill={TICK_INK}>{f(v)}</text>
      ))}
    </g>
  );
}

function YTitle({ cy, label }: { cy: number; label: string }) {
  return (
    <text transform={`translate(40,${cy}) rotate(-90)`} textAnchor="middle" fontSize={22.5} fill="#000">{label}</text>
  );
}

// ---------------------------------------------------------------------------
// Sections
// ---------------------------------------------------------------------------
function TotalVarianceRow() {
  const facets = ['Data', 'Prior', 'Prior x NN Model'];
  const sets = [tvData, tvPrior, tvModel];
  return (
    <g>
      <text x={97} y={79.5} fontSize={27} fill="#000">Data vs Predictions: Total Variance</text>
      {sets.map((set, p) => {
        const x0 = X3[p];
        const xs = d3.scaleLinear().domain(tvXDomain).range([x0, x0 + PANEL_W3]);
        const line = d3.line<Pt>().x((d) => xs(d[0])).y((d) => tvY(d[1])).curve(p === 0 ? d3.curveLinear : d3.curveMonotoneX);
        return (
          <g key={p}>
            <PanelGrid xs={xs} ys={tvY} x0={x0} x1={x0 + PANEL_W3} y0={TV_Y[0]} y1={TV_Y[1]} xMajor={tvXMajor} xMinor={tvXMinor} yMajor={tvYMajor} yMinor={tvYMinor} />
            <Strip x={x0 + PANEL_W3 / 2} y={121.5} label={facets[p]} />
            {set.map((c, i) => (
              <path key={'l' + i} d={line(c) || ''} fill="none" stroke={hues[i]} strokeWidth={1.9} strokeLinejoin="round" />
            ))}
            {set.map((c, i) => {
              const q = tvQuotes[i];
              const ks = d3.range(q[0], q[1] + 1e-9, 0.022);
              return (
                <g key={'p' + i} fill={hues[i]}>
                  {ks.map((k, j) => {
                    const v = valueAt(c, k);
                    return v === null ? null : <circle key={j} cx={xs(k)} cy={tvY(v)} r={2.6} />;
                  })}
                </g>
              );
            })}
            <XTicks xs={xs} ticks={tvXMajor} y={486.5} f={fmt1} />
          </g>
        );
      })}
      <YTicks ys={tvY} ticks={tvYMajor} f={fmt1} />
      <YTitle cy={298} label="Total Variance" />
      <text x={668} y={513} textAnchor="middle" fontSize={22.5} fill="#000">Log{'\u2212'}Moneyness</text>
    </g>
  );
}

function ImpliedVolRow() {
  const sets = [ivData, ivPrior, ivModel];
  return (
    <g>
      <text x={97} y={559.5} fontSize={27} fill="#000">Data vs Predictions: Implied Volatility</text>
      {ivFacets.map((name, p) => {
        const x0 = X4[p];
        const xs = d3.scaleLinear().domain(tvXDomain).range([x0, x0 + PANEL_W4]);
        const ks = d3.range(ivQuotes[p][0], ivQuotes[p][1] + 1e-9, 0.016);
        return (
          <g key={p}>
            <PanelGrid xs={xs} ys={ivY} x0={x0} x1={x0 + PANEL_W4} y0={IV_Y[0]} y1={IV_Y[1]} xMajor={tvXMajor} xMinor={tvXMinor} yMajor={ivYMajor} yMinor={ivYMinor} />
            <Strip x={x0 + PANEL_W4 / 2} y={601.5} label={name} />
            {sets.map((set, s) => {
              const line = d3.line<Pt>().x((d) => xs(d[0])).y((d) => ivY(d[1])).curve(s === 0 ? d3.curveLinear : d3.curveMonotoneX);
              return <path key={'l' + s} d={line(set[p]) || ''} fill="none" stroke={seriesColors[s]} strokeWidth={1.9} strokeLinejoin="round" />;
            })}
            {sets.map((set, s) => (
              <g key={'p' + s} fill={seriesColors[s]}>
                {ks.map((k, j) => {
                  const v = valueAt(set[p], k);
                  return v === null ? null : <circle key={j} cx={xs(k)} cy={ivY(v)} r={2.7} />;
                })}
              </g>
            ))}
            <XTicks xs={xs} ticks={tvXMajor} y={966.5} f={fmt1} />
          </g>
        );
      })}
      <YTicks ys={ivY} ticks={ivYMajor} f={fmt1} />
      <YTitle cy={776.5} label="Implied Volatility" />
      <text x={668} y={993} textAnchor="middle" fontSize={22.5} fill="#000">Log{'\u2212'}Moneyness</text>
    </g>
  );
}

function ExtendedGridRow() {
  const facets = ['Prior', 'Scaled NN Model', 'Prior x NN Model'];
  const panels: { knots: number[]; rows: number[][] }[] = [
    { knots: priorKnots, rows: priorGrid },
    { knots: scaledKnots, rows: scaledGrid },
    { knots: modelKnots, rows: modelGrid },
  ];
  return (
    <g>
      <text x={97} y={1039.5} fontSize={27} fill="#000">Predictions on an Extended Grid</text>
      {panels.map((pn, p) => {
        const x0 = X3[p];
        const xs = d3.scaleLinear().domain(gXDomain).range([x0, x0 + PANEL_W3]);
        const line = d3.line<Pt>().x((d) => xs(d[0])).y((d) => gY(d[1])).curve(d3.curveMonotoneX);
        return (
          <g key={p}>
            <PanelGrid xs={xs} ys={gY} x0={x0} x1={x0 + PANEL_W3} y0={G_Y[0]} y1={G_Y[1]} xMajor={gXMajor} xMinor={gXMinor} yMajor={gYMajor} yMinor={gYMinor} />
            <Strip x={x0 + PANEL_W3 / 2} y={1081.5} label={facets[p]} />
            {pn.rows.map((row, i) => {
              const pts: Pt[] = pn.knots.map((k, j) => [k, row[j]]);
              return <path key={i} d={line(pts) || ''} fill="none" stroke={tColor(gridMaturities[i])} strokeWidth={2.3} strokeLinejoin="round" />;
            })}
            <XTicks xs={xs} ticks={gXMajor} y={1446.5} f={fmt0} />
          </g>
        );
      })}
      <YTicks ys={gY} ticks={gYMajor} f={fmt2} />
      <YTitle cy={1257} label="Total Variance" />
      <text x={668} y={1473} textAnchor="middle" fontSize={22.5} fill="#000">Log{'\u2212'}Moneyness</text>
    </g>
  );
}

function Legends() {
  const rowStep = 47.38;
  const barY = d3.scaleLinear().domain([0.01, 2.69]).range([1363, 1183]);
  const stops = d3.range(0, 1.0001, 0.1);
  return (
    <g>
      {/* maturity legend, two columns filled by row */}
      {maturities.map((m, i) => {
        const row = Math.floor(i / 2);
        const col = i % 2;
        const cy = 5 + row * rowStep;
        const kx = col === 0 ? 1285 : 1380;
        const tx = col === 0 ? 1328 : 1424;
        return (
          <g key={m}>
            <line x1={kx} x2={kx + 28} y1={cy} y2={cy} stroke={hues[i]} strokeWidth={1.9} />
            <circle cx={kx + 14} cy={cy} r={2.4} fill={hues[i]} />
            <text x={tx} y={cy + 6.4} fontSize={18} fill="#000">{m}</text>
          </g>
        );
      })}

      {/* data / model legend */}
      <text x={1276} y={726} fontSize={22.5} fill="#000">Data / Model</text>
      {ivSeries.map((s, i) => {
        const cy = 757 + i * 36;
        return (
          <g key={s}>
            <line x1={1280} x2={1308} y1={cy} y2={cy} stroke={seriesColors[i]} strokeWidth={1.9} />
            <circle cx={1294} cy={cy} r={2.4} fill={seriesColors[i]} />
            <text x={1323} y={cy + 6.4} fontSize={18} fill="#000">{s}</text>
          </g>
        );
      })}

      {/* maturity colour bar */}
      <defs>
        <linearGradient id="tbar" x1="0" y1="1" x2="0" y2="0">
          {stops.map((t) => (
            <stop key={t} offset={t} stopColor={tColor(0.01 + t * 2.68)} />
          ))}
        </linearGradient>
      </defs>
      <text x={1289} y={1170} fontSize={22.5} fill="#000">Time to maturity</text>
      <rect x={1289} y={1183} width={36} height={180} fill="url(#tbar)" />
      {barBreaks.map((b) => (
        <g key={b}>
          <line x1={1289} x2={1296.2} y1={barY(b)} y2={barY(b)} stroke="#fff" strokeWidth={1.1} />
          <line x1={1317.8} x2={1325} y1={barY(b)} y2={barY(b)} stroke="#fff" strokeWidth={1.1} />
          <text x={1336} y={barY(b) + 6.4} fontSize={18} fill="#000">{d3.format('.1f')(b)}</text>
        </g>
      ))}
    </g>
  );
}

export default function App() {
  return (
    <svg
      width={1500}
      height={1500}
      viewBox="0 0 1500 1500"
      fontFamily={FONT}
      style={{ position: 'absolute', left: 0, top: 0, background: '#fff' }}
    >
      <rect width={1500} height={1500} fill="#fff" />
      <text x={24} y={31} fontSize={27} fill="#000">Prior = SSVI, Lambda = 10</text>
      <TotalVarianceRow />
      <ImpliedVolRow />
      <ExtendedGridRow />
      <Legends />
    </svg>
  );
}
